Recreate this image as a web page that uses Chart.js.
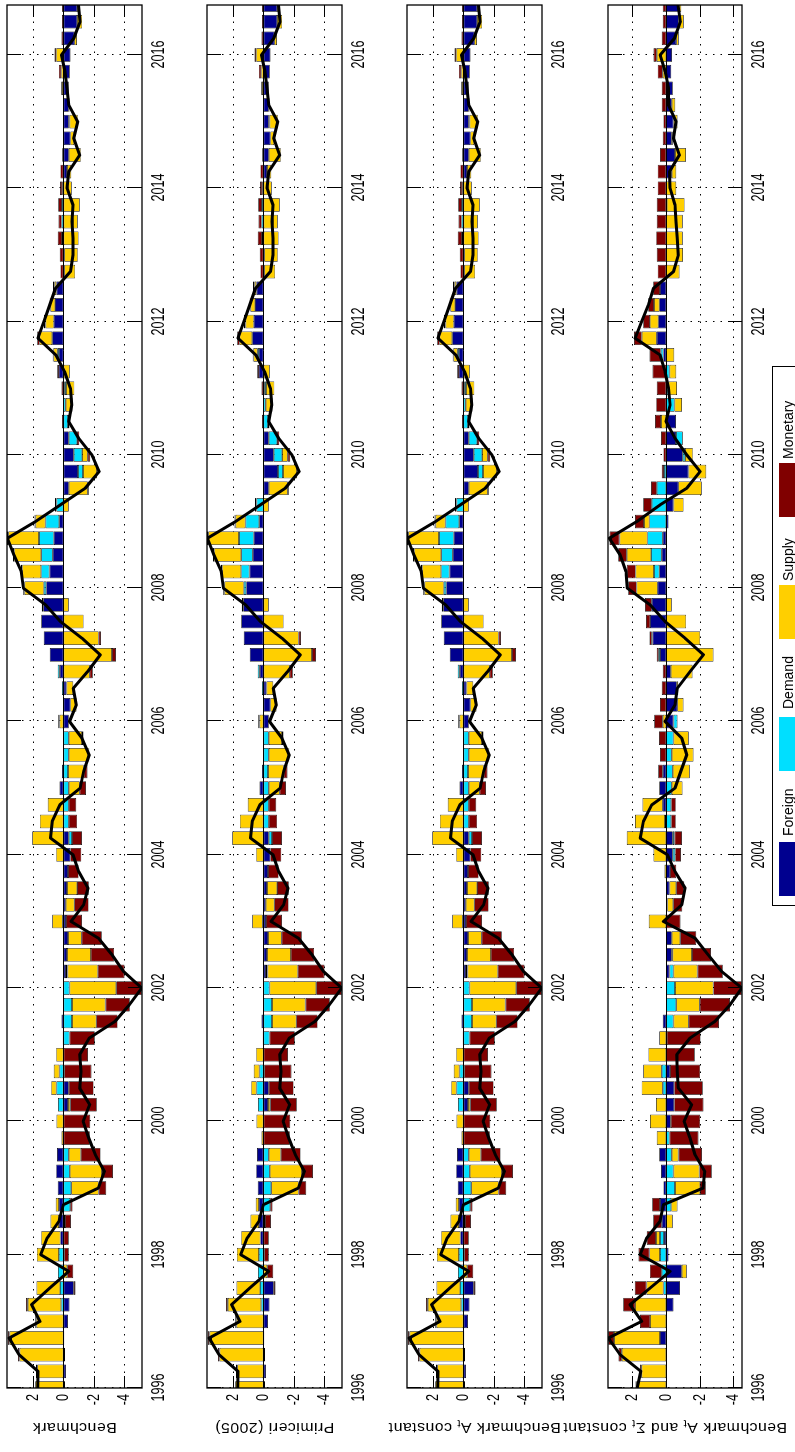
<!DOCTYPE html>
<html>
<head>
<meta charset="utf-8">
<script src="https://cdn.jsdelivr.net/npm/chart.js@4.4.0/dist/chart.umd.min.js"></script>
<style>
  html, body { margin: 0; padding: 0; background: #fff; overflow: hidden; }
  #wrap {
    position: absolute; left: 0; top: 0; width: 1452px; height: 795px;
    transform-origin: 0 0; transform: translate(0px, 1452px) rotate(-90deg);
    overflow: hidden; background: #fff;
  }
  #wrap canvas { position: absolute; left: 0; }
  #legend {
    position: absolute; left: 546px; top: 772px; width: 538px; height: 60px;
    border: 1px solid #000; background: #fff;
    font: 14px "Liberation Sans", Arial, sans-serif; color: #000;
  }
  .sw { position: absolute; top: 6px; width: 54px; height: 22px; }
  .lt { position: absolute; top: 8px; line-height: 14px; }
</style>
</head>
<body>
<div id="wrap">
  <canvas id="c1" width="1452" height="320" style="top:-60px"></canvas>
  <canvas id="c2" width="1452" height="320" style="top:140px"></canvas>
  <canvas id="c3" width="1452" height="320" style="top:340px"></canvas>
  <canvas id="c4" width="1452" height="320" style="top:540px"></canvas>
  <div id="legend">
    <span class="sw" style="left:9px;background:#00008F"></span><span class="lt" style="left:69px">Foreign</span>
    <span class="sw" style="left:134px;background:#00DFFF"></span><span class="lt" style="left:196px">Demand</span>
    <span class="sw" style="left:266px;background:#FFCF00"></span><span class="lt" style="left:324px">Supply</span>
    <span class="sw" style="left:388px;background:#800000"></span><span class="lt" style="left:446px">Monetary</span>
  </div>
</div>
<script>
// quarterly dates 1996Q1 .. 2016Q4
const quarters = [];
for (let i = 0; i < 84; i++) quarters.push(1996 + i / 4);
const yearTicks = [1996, 1998, 2000, 2002, 2004, 2006, 2008, 2010, 2012, 2014, 2016];
const valueTicks = [2, 0, -2, -4];
const seriesNames = ["Foreign", "Demand", "Supply", "Monetary"];
const seriesColors = ["#00008F", "#00DFFF", "#FFCF00", "#800000"];

// panel 1: Benchmark
const foreign1 = [-0.10,-0.17,-0.10,-0.05,-0.30,-0.40,-0.68,0,-0.05,0.20, 0.30,0.30,0.37,0.48,0.42,0,0,-0.30,-0.35,-0.05, 0,0,0.13,0,0,-0.17,-0.24,-0.30,-0.17,-0.15, -0.24,-0.30,-0.46,-0.35,0,0,0.26,0.10,0,0, -0.35,-0.46,-0.20,0.24,0.90,1.29,1.46,1.33,1.14,0.92, 0.70,0.63,0.28,0,-0.35,-0.96,-0.68,-0.35,0,0, -0.05,0.30,0.30,0.74,0.63,0.55,0.46,0,0,0, 0,0,0.08,-0.24,-0.35,-0.46,-0.35,-0.35,-0.35,-0.42, -0.46,-0.72,-0.90,-0.90];
const demand1 = [0,0,0,0,0,0.15,0.22,0.35,0.30,0, -0.10,-0.45,-0.52,-0.42,-0.35,0,0,0.35,0.46,0.26, 0,-0.40,-0.57,-0.57,-0.40,-0.10,0,0,0.05,0, 0,0,0,-0.22,-0.35,-0.35,-0.35,-0.30,-0.35,-0.35, 0,0,0.10,0.13,0,0,0,0,0.15,0.55, 0.76,0.98,0.90,0.46,0,-0.33,-0.55,-0.55,-0.30,-0.15, -0.12,0,0.10,0,0,0,0,-0.05,-0.05,0.09, 0.12,0.10,0,0,0,0,-0.05,-0.05,0,0, 0,0,0,0];
const supply1 = [1.85,1.73,2.90,3.55,1.77,2.20,1.55,-0.25,1.45,1.27, 0.55,0.20,-1.80,-2.12,-0.80,0.12,0.45,-0.15,0.35,0.37, 0.48,0.05,-1.60,-2.20,-3.08,-2.00,-1.57,-0.90,0.68,-0.57, -0.66,0,0.48,2.05,1.55,1.03,-0.72,-1.03,-1.31,-0.87, 0.26,-0.40,-0.45,-1.73,-3.20,-2.32,-1.33,-0.35,1.27,1.25, 1.79,2.03,0.66,-0.35,-1.25,-0.92,-0.37,0,-0.10,-0.45, -0.55,-0.42,0.25,0.83,0.55,0.30,0.13,-0.72,-0.90,-1.00, -0.94,-1.07,-0.55,-0.28,-0.80,-0.25,-0.55,0,0.10,0.15, 0.48,-0.17,-0.33,-0.17];
const monetary1 = [0,0.08,0.10,0.10,0.08,0.12,-0.12,-0.40,-0.30,-0.35, -0.40,-0.15,-0.50,-0.72,-1.30,-1.73,-1.77,-1.75,-1.64,-1.80, -1.62,-1.66,-1.40,-1.60,-1.68,-1.75,-1.53,-1.33,-1.05,-0.94, -0.77,-0.70,-0.72,-0.65,-0.55,-0.50,-0.42,-0.26,-0.05,-0.10, 0.08,0,0,-0.20,-0.26,-0.15,0,0.10,0.09,0.07, 0.07,0.09,0.07,0.10,-0.07,0,-0.17,-0.15,0.10,0, 0.12,0.10,0.05,0.15,0.10,0.05,0.09,0.20,0.24,0.28, 0.20,0.24,0.15,0.20,0.08,0,0,0,0.05,0.15, 0.11,0.13,0.10,0.10];
const total1 = [1.70,1.68,2.93,3.58,1.55,2.10,0.90,-0.35,1.50,1.07, 0.30,0.00,-2.30,-2.70,-2.10,-1.67,-1.30,-1.73,-1.07,-1.16, -1.07,-1.70,-3.40,-4.35,-5.16,-3.96,-3.20,-2.30,-0.50,-1.33, -1.62,-1.00,-0.63,0.85,0.74,0.24,-1.10,-1.33,-1.70,-1.22, -0.40,-0.85,-0.65,-1.60,-2.43,-1.22,0.20,1.18,2.64,2.78, 3.26,3.69,1.84,0.20,-1.44,-2.36,-1.88,-1.00,-0.35,-0.55, -0.46,-0.07,0.50,1.68,1.29,0.90,0.52,-0.46,-0.63,-0.63, -0.57,-0.63,-0.24,-0.35,-1.07,-0.68,-0.94,-0.35,-0.24,-0.10, 0.13,-0.68,-1.10,-1.00];

// panels 2 and 3 look almost the same as the benchmark
const foreign2 = foreign1, demand2 = demand1, supply2 = supply1, monetary2 = monetary1, total2 = total1;
const foreign3 = foreign1, demand3 = demand1, supply3 = supply1, monetary3 = monetary1, total3 = total1;

// panel 4: A_t and Sigma_t constant
const foreign4 = [0,0,0,0.36,0,-0.44,-0.83,-0.93,-0.14,0.12, 0.26,0.36,0.16,0.30,0.40,0,-0.28,-0.48,-0.48,-0.24, 0,0,0.20,0,0,-0.20,-0.34,-0.34,0,-0.08, -0.20,-0.24,-0.40,-0.40,0.06,0.20,0.40,0.20,0,0, -0.44,-0.67,-0.63,-0.28,0.36,0.80,0.95,0.85,0.50,0.40, 0.26,0.20,-0.14,-0.44,-0.73,-1.33,-0.99,-0.59,-0.59,0, -0.05,0,0.16,0.55,0.46,0.40,0.36,0,0,0, 0,-0.05,0,-0.34,-0.53,-0.34,-0.44,-0.34,-0.40,-0.30, -0.35,-0.60,-0.75,-0.75];
const demand4 = [0,0,0,0,0,0,0.16,0.26,0.36,0.24, 0,-0.30,-0.53,-0.44,-0.34,-0.20,0,0,0.20,0.26, 0,-0.05,-0.44,-0.60,-0.53,-0.24,-0.05,0,0,0, 0,0,-0.14,-0.10,-0.30,-0.30,-0.34,-0.40,-0.34,-0.44, -0.24,0,0,0,0.10,0.05,0,0,0,0.32, 0.63,0.91,0.99,0.85,0.55,0.12,-0.14,-0.40,0,-0.50, -0.10,-0.20,0.15,0,0,0,0,0,0,0, 0,0,0,0,0,0,0,0,0,0, 0,0,0,0];
const supply4 = [1.74,1.45,2.63,2.73,0.95,1.84,1.00,-0.30,0.63,0.24, -0.40,-0.38,-1.49,-1.54,-0.40,0.55,0.95,0.60,1.25,1.10, 1.05,0.40,-0.90,-1.40,-2.28,-1.43,-1.15,-0.50,1.03,-0.35, -0.40,0.10,0.75,2.34,1.78,1.20,-0.63,-1.00,-1.29,-0.90, 0.20,-0.36,-0.10,-1.29,-2.81,-2.02,-1.19,-0.34,1.25,1.09, 1.45,1.66,0.32,-0.60,-1.39,-1.05,-0.46,0,0.30,-0.45, -0.50,-0.40,-0.48,0.89,0.50,0.32,0,-0.80,-1.00,-0.99, -0.99,-1.05,-0.60,-0.26,-0.65,-0.05,-0.24,-0.20,0,0.20, 0.55,-0.15,-0.30,-0.15];
const monetary4 = [0.08,0.10,0.20,0.34,0.60,0.70,0.70,0.70,0.65,0.55, 0.50,0.46,-0.34,-0.73,-1.39,-1.72,-1.74,-1.74,-1.70,-1.78, -1.70,-2.00,-1.80,-1.80,-1.68,-1.49,-1.13,-0.95,-0.85,-0.53, -0.48,-0.36,-0.34,-0.44,-0.28,-0.28,0,0.26,0.36,0.42, 0.50,0.36,0.26,0.20,0.10,0.14,0.24,0.40,0.50,0.53, 0.50,0.59,0.53,0.50,0.34,0.14,0.16,0.30,0.36,0.59, 0.55,0.80,0.67,0.46,0.40,0.34,0.40,0.50,0.55,0.59, 0.55,0.55,0.50,0.50,0.36,0.20,0.16,0.26,0.25,0.30, 0.20,0.25,0.20,0.20];
const total4 = [1.72,1.50,2.73,3.43,1.45,2.14,0.95,-0.24,1.54,1.15, 0.36,0.16,-2.20,-2.30,-1.72,-1.42,-1.07,-1.52,-0.73,-0.67, -0.63,-1.42,-2.90,-3.80,-4.50,-3.30,-2.50,-1.72,0.16,-0.93, -1.13,-0.53,-0.08,1.54,1.35,0.85,-0.53,-0.87,-1.23,-0.93, 0.06,-0.53,-0.67,-1.43,-2.22,-1.13,0.06,0.95,2.30,2.38, 2.73,3.37,1.74,0.36,-1.23,-2.02,-1.23,-0.53,0.00,-0.24, -0.14,0.06,0.36,1.84,1.45,1.05,0.75,-0.44,-0.73,-0.67, -0.59,-0.53,-0.24,-0.20,-0.79,-0.44,-0.59,-0.14,-0.15,0.05, 0.35,-0.50,-0.85,-0.70];

const FONT = '"Liberation Sans", Arial, sans-serif';
const EXTRA = 60; // canvas overhang above/below each panel, room for long titles

// draws text stretched vertically (the original figure has tall glyphs)
function tallText(ctx, txt, x, y, size, sy, align, baseline) {
  ctx.save();
  ctx.translate(x, y);
  ctx.scale(1, sy);
  ctx.font = size + 'px ' + FONT;
  ctx.textAlign = align;
  ctx.textBaseline = baseline;
  ctx.fillText(txt, 0, 0);
  ctx.restore();
}

// grid, frame, inward ticks, tick labels and y title, matlab style
const decor = {
  id: 'decor',
  beforeDatasetsDraw(chart) {
    const { ctx, chartArea: a, scales: { x, y } } = chart;
    ctx.save();
    ctx.strokeStyle = '#000';
    ctx.lineWidth = 1;
    ctx.setLineDash([1.5, 6]);
    yearTicks.forEach(t => {
      const px = Math.round(x.getPixelForValue(t)) + 0.5;
      ctx.beginPath(); ctx.moveTo(px, a.top); ctx.lineTo(px, a.bottom); ctx.stroke();
    });
    valueTicks.forEach(v => {
      const py = Math.round(y.getPixelForValue(v)) + 0.5;
      ctx.beginPath(); ctx.moveTo(a.left, py); ctx.lineTo(a.right, py); ctx.stroke();
    });
    ctx.restore();
  },
  afterDatasetsDraw(chart, args, opts) {
    const { ctx, chartArea: a, scales: { x, y } } = chart;
    ctx.save();
    ctx.strokeStyle = '#000';
    ctx.fillStyle = '#000';
    ctx.lineWidth = 1;
    // zero baseline
    const p0 = Math.round(y.getPixelForValue(0)) + 0.5;
    ctx.beginPath(); ctx.moveTo(a.left, p0); ctx.lineTo(a.right, p0); ctx.stroke();
    // ticks
    yearTicks.forEach(t => {
      const px = Math.round(x.getPixelForValue(t)) + 0.5;
      ctx.beginPath();
      ctx.moveTo(px, a.bottom); ctx.lineTo(px, a.bottom - 14);
      ctx.moveTo(px, a.top); ctx.lineTo(px, a.top + 14);
      ctx.stroke();
      tallText(ctx, String(t), px, a.bottom + 8, 12.6, 1.4, 'center', 'top');
    });
    valueTicks.forEach(v => {
      const py = Math.round(y.getPixelForValue(v)) + 0.5;
      ctx.beginPath();
      ctx.moveTo(a.left, py); ctx.lineTo(a.left + 12, py);
      ctx.moveTo(a.right, py); ctx.lineTo(a.right - 12, py);
      ctx.stroke();
      tallText(ctx, String(v), a.left - 6, py, 12.6, 1.25, 'right', 'middle');
    });
    // frame
    ctx.lineWidth = 1.3;
    ctx.strokeRect(a.left, a.top, a.right - a.left, a.bottom - a.top);
    // y title with subscripts, rotated
    const parts = opts.title || [];
    ctx.translate(29, (a.top + a.bottom) / 2);
    ctx.scale(1, 1.12);
    ctx.rotate(-Math.PI / 2);
    ctx.letterSpacing = '0.5px';
    ctx.textBaseline = 'alphabetic';
    ctx.textAlign = 'left';
    let total = 0;
    const widths = parts.map(p => {
      ctx.font = (p[1] ? 10 : 14) + 'px ' + FONT;
      const w = ctx.measureText(p[0]).width;
      total += w;
      return w;
    });
    let cx = -total / 2;
    parts.forEach((p, i) => {
      ctx.font = (p[1] ? 10 : 14) + 'px ' + FONT;
      ctx.fillText(p[0], cx, p[1] ? 3 : 0);
      cx += widths[i];
    });
    ctx.restore();
  }
};

function makePanel(id, comps, total, yMin, yMax, padTop, title) {
  const bars = comps.map((vals, k) => ({
    type: 'bar',
    label: seriesNames[k],
    data: vals,
    backgroundColor: seriesColors[k],
    borderColor: '#000',
    borderWidth: 0.7,
    borderSkipped: false,
    stack: 'comp',
    order: 1,
    barPercentage: 0.82,
    categoryPercentage: 1.0
  }));
  return new Chart(document.getElementById(id), {
    type: 'bar',
    data: {
      labels: quarters,
      datasets: bars.concat([{
        type: 'line',
        label: 'Total',
        data: total,
        borderColor: '#000',
        borderWidth: 3,
        borderJoinStyle: 'round',
        pointRadius: 0,
        tension: 0,
        fill: false,
        stack: 'line',
        order: 0
      }])
    },
    options: {
      responsive: false,
      animation: false,
      layout: { padding: { left: 64, right: 5, top: padTop + EXTRA, bottom: 58 + EXTRA } },
      plugins: {
        legend: { display: false },
        tooltip: { enabled: false },
        decor: { title: title }
      },
      scales: {
        x: { type: 'linear', min: 1996, max: 2016.75, stacked: true, offset: false, display: false },
        y: { type: 'linear', min: yMin, max: yMax, stacked: true, display: false }
      }
    },
    plugins: [decor]
  });
}

makePanel('c1', [foreign1, demand1, supply1, monetary1], total1, -5.18, 3.72, 7,
  [['Benchmark', false]]);
makePanel('c2', [foreign2, demand2, supply2, monetary2], total2, -5.18, 3.72, 7,
  [['Primiceri (2005)', false]]);
makePanel('c3', [foreign3, demand3, supply3, monetary3], total3, -5.18, 3.72, 7,
  [['Benchmark A', false], ['t', true], [' constant', false]]);
makePanel('c4', [foreign4, demand4, supply4, monetary4], total4, -4.51, 3.45, 8,
  [['Benchmark A', false], ['t', true], [' and \u03A3', false], ['t', true], [' constant', false]]);
</script>
</body>
</html>
